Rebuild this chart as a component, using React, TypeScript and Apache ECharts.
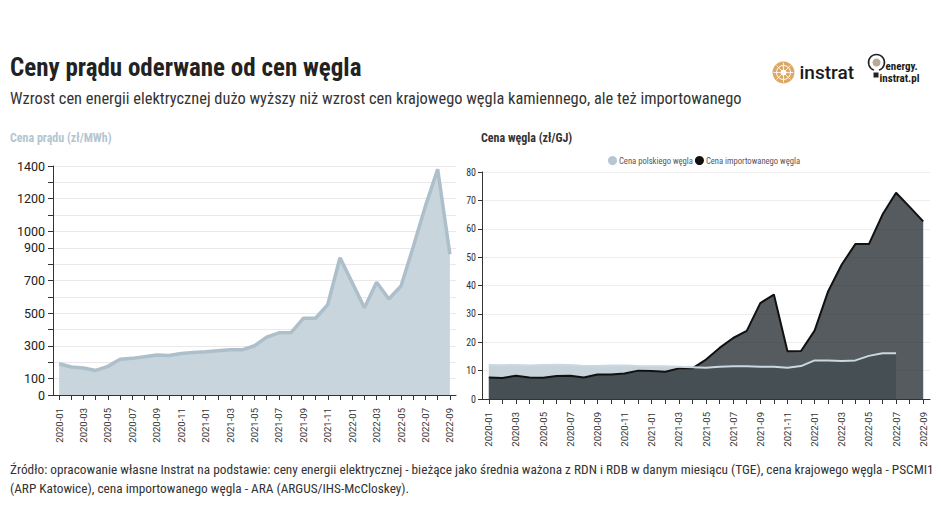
import React, { useEffect, useRef } from "react";
import * as echarts from "echarts";

const months = [
  "2020-01","2020-02","2020-03","2020-04","2020-05","2020-06","2020-07","2020-08","2020-09","2020-10","2020-11","2020-12",
  "2021-01","2021-02","2021-03","2021-04","2021-05","2021-06","2021-07","2021-08","2021-09","2021-10","2021-11","2021-12",
  "2022-01","2022-02","2022-03","2022-04","2022-05","2022-06","2022-07","2022-08","2022-09",
];

const powerPrice = [
  191, 171, 165, 150, 175, 219, 224, 234, 244, 242, 254, 260,
  264, 270, 276, 276, 301, 354, 380, 382, 469, 469, 553, 839,
  687, 534, 689, 587, 666, 906, 1156, 1380, 860,
];

const polishCoal = [
  12.0, 11.9, 12.0, 11.8, 12.0, 12.1, 12.0, 11.6, 11.6, 11.8, 11.8, 11.6,
  11.5, 11.5, 11.4, 11.2, 11.0, 11.4, 11.5, 11.5, 11.4, 11.4, 11.0, 11.6,
  13.6, 13.6, 13.4, 13.6, 15.2, 16.1, 16.1, null, null,
];

const importedCoal = [
  7.6, 7.4, 8.2, 7.6, 7.5, 8.1, 8.2, 7.6, 8.6, 8.6, 9.0, 10.0,
  9.9, 9.6, 10.8, 10.8, 13.9, 18.0, 21.5, 24.0, 33.8, 36.8, 16.8, 16.9,
  24.1, 38.0, 47.4, 54.6, 54.6, 65.0, 72.7, 67.7, 62.6,
];

const powerTickLabels = [0, 100, 300, 500, 700, 900, 1000, 1200, 1400];

const NARROW = "'Roboto Condensed', 'Liberation Sans Narrow', 'DejaVu Sans Condensed', Roboto, sans-serif";
const AXIS_FONT = "Roboto, 'Liberation Sans', sans-serif";

export default function App() {
  const ref = useRef<HTMLDivElement>(null);

  useEffect(() => {
    if (!ref.current) return;
    const chart = echarts.init(ref.current, undefined, { renderer: "svg" });

    const xAxisCommon = {
      type: "category" as const,
      data: months,
      boundaryGap: true,
      axisLine: { show: true, lineStyle: { color: "#333", width: 1 } },
      axisTick: { show: true, alignWithLabel: true, interval: 0, length: 5, lineStyle: { color: "#333" } },
      axisLabel: {
        interval: 1,
        rotate: 90,
        fontSize: 9.5,
        color: "#333",
        fontFamily: AXIS_FONT,
        margin: 13,
      },
      splitLine: { show: false },
    };

    const option: any = {
      animation: false,
      backgroundColor: "#ffffff",
      textStyle: { fontFamily: AXIS_FONT },
      grid: [
        { left: 53, top: 166, width: 403, height: 229 },
        { left: 482, top: 172, width: 448, height: 227 },
      ],
      legend: {
        data: ["Cena polskiego węgla", "Cena importowanego węgla"],
        left: 603,
        top: 151,
        icon: "circle",
        itemWidth: 9,
        itemHeight: 9,
        itemGap: 2,
        textStyle: { fontSize: 8.6, color: "#555", fontFamily: NARROW, padding: [0, 0, 0, -3] },
      },
      xAxis: [
        { ...xAxisCommon, gridIndex: 0 },
        { ...xAxisCommon, gridIndex: 1 },
      ],
      yAxis: [
        {
          type: "value",
          gridIndex: 0,
          min: 0,
          max: 1400,
          interval: 100,
          axisLine: { show: true, lineStyle: { color: "#333" } },
          axisTick: { show: true, length: 5, lineStyle: { color: "#333" } },
          axisLabel: {
            fontSize: 12.5,
            color: "#222",
            margin: 8,
            formatter: (v: number) => (powerTickLabels.includes(v) ? String(v) : ""),
          },
          splitLine: { show: true, lineStyle: { color: "#ece7e9", width: 1 } },
        },
        {
          type: "value",
          gridIndex: 1,
          min: 0,
          max: 80,
          interval: 10,
          axisLine: { show: true, lineStyle: { color: "#333" } },
          axisTick: { show: true, length: 4, lineStyle: { color: "#333" } },
          axisLabel: { fontSize: 10, color: "#333", margin: 6, fontFamily: NARROW },
          splitLine: { show: true, lineStyle: { color: "#eeeeee", width: 1 } },
        },
      ],
      series: [
        {
          name: "Cena prądu",
          type: "line",
          xAxisIndex: 0,
          yAxisIndex: 0,
          data: powerPrice,
          showSymbol: false,
          lineStyle: { color: "#adbfca", width: 3.5 },
          itemStyle: { color: "#adbfca" },
          areaStyle: { color: "#c9d5dc", opacity: 1 },
          z: 2,
        },
        {
          name: "Cena polskiego węgla",
          type: "line",
          xAxisIndex: 1,
          yAxisIndex: 1,
          data: polishCoal,
          showSymbol: false,
          lineStyle: { width: 0 },
          itemStyle: { color: "#b7c7d1" },
          areaStyle: { color: "#c6d3db", opacity: 1 },
          z: 2,
        },
        {
          name: "Cena importowanego węgla",
          type: "line",
          xAxisIndex: 1,
          yAxisIndex: 1,
          data: importedCoal,
          showSymbol: false,
          lineStyle: { color: "#111", width: 2 },
          itemStyle: { color: "#111" },
          areaStyle: { color: "rgb(20,28,32)", opacity: 0.72 },
          z: 3,
        },
        {
          name: "Cena polskiego węgla",
          type: "line",
          xAxisIndex: 1,
          yAxisIndex: 1,
          data: polishCoal,
          showSymbol: false,
          lineStyle: { color: "#c9d8e1", width: 2 },
          itemStyle: { color: "#b7c7d1" },
          z: 4,
        },
      ],
      graphic: [
        {
          type: "text",
          left: 10,
          top: 55,
          style: { text: "Ceny prądu oderwane od cen węgla", font: `bold 25px ${NARROW}`, fill: "#222" },
        },
        {
          type: "text",
          left: 10,
          top: 90,
          style: {
            text: "Wzrost cen energii elektrycznej dużo wyższy niż wzrost cen krajowego węgla kamiennego, ale też importowanego",
            font: `16.4px ${NARROW}`,
            fill: "#333",
          },
        },
        {
          type: "text",
          left: 10,
          top: 132,
          style: { text: "Cena prądu (zł/MWh)", font: `bold 12px ${NARROW}`, fill: "#b4c5cf" },
        },
        {
          type: "text",
          left: 481,
          top: 132,
          style: { text: "Cena węgla (zł/GJ)", font: `bold 12px ${NARROW}`, fill: "#333" },
        },
        {
          type: "text",
          left: 10,
          top: 460,
          style: {
            text:
              "Źródło: opracowanie własne Instrat na podstawie: ceny energii elektrycznej - bieżące jako średnia ważona z RDN i RDB w danym miesiącu (TGE), cena krajowego węgla - PSCMI1\n(ARP Katowice), cena importowanego węgla - ARA (ARGUS/IHS-McCloskey).",
            font: `13.3px ${NARROW}`,
            lineHeight: 19,
            fill: "#333",
          },
        },
        // instrat logo
        {
          type: "group",
          left: 771,
          top: 60,
          children: [
            { type: "circle", shape: { cx: 11, cy: 11, r: 11 }, style: { fill: "#dca868" } },
            { type: "circle", shape: { cx: 11, cy: 11, r: 7 }, style: { fill: "none", stroke: "#fff", lineWidth: 1 } },
            { type: "circle", shape: { cx: 11, cy: 11, r: 3 }, style: { fill: "#fff" } },
            { type: "line", shape: { x1: 1, y1: 11, x2: 21, y2: 11 }, style: { stroke: "#fff", lineWidth: 0.8 } },
            { type: "line", shape: { x1: 11, y1: 1, x2: 11, y2: 21 }, style: { stroke: "#fff", lineWidth: 0.8 } },
            { type: "line", shape: { x1: 4, y1: 4, x2: 18, y2: 18 }, style: { stroke: "#fff", lineWidth: 0.8 } },
            { type: "line", shape: { x1: 18, y1: 4, x2: 4, y2: 18 }, style: { stroke: "#fff", lineWidth: 0.8 } },
            {
              type: "text",
              x: 27,
              y: 11,
              style: { text: "instrat", font: `500 19px Roboto, sans-serif`, fill: "#1a1a1a", verticalAlign: "middle" },
            },
          ],
        },
        // energy.instrat.pl logo
        {
          type: "group",
          left: 866,
          top: 52,
          children: [
            { type: "arc", shape: { cx: 10, cy: 10, r: 8, startAngle: Math.PI * 0.6, endAngle: Math.PI * 0.4 + Math.PI * 2 }, style: { stroke: "#222", lineWidth: 1.5, fill: "none" } },
            { type: "circle", shape: { cx: 10, cy: 10, r: 4 }, style: { fill: "#b9aa98" } },
            { type: "rect", shape: { x: 7, y: 20, width: 5, height: 5 }, style: { fill: "#222" } },
            {
              type: "text",
              x: 19,
              y: 14,
              style: { text: "energy.", font: `bold 11px ${NARROW}`, fill: "#1a1a1a", verticalAlign: "middle" },
            },
            {
              type: "text",
              x: 13,
              y: 26,
              style: { text: "instrat.pl", font: `bold 11px ${NARROW}`, fill: "#1a1a1a", verticalAlign: "middle" },
            },
          ],
        },
      ],
    };

    chart.setOption(option);
    return () => chart.dispose();
  }, []);

  return (
    <div
      ref={ref}
      style={{ position: "fixed", left: 0, top: 0, width: 941, height: 529, background: "#fff" }}
    />
  );
}
